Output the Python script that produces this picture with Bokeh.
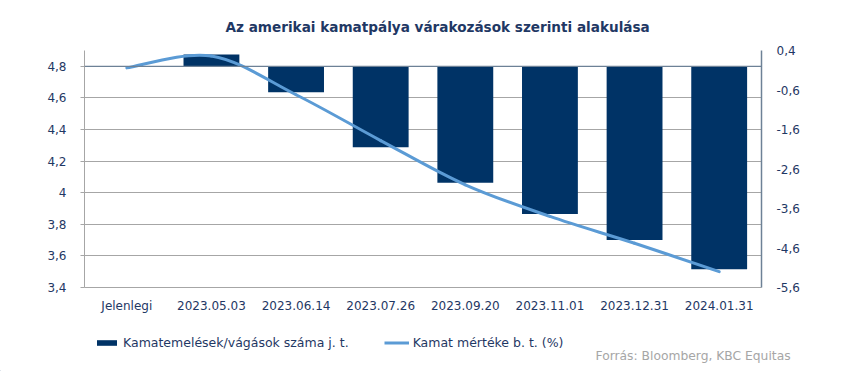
from bokeh.plotting import figure
from bokeh.layouts import column
from bokeh.models import (Range1d, LinearAxis, FixedTicker, CustomJSTickFormatter,
                          Span, Legend, LegendItem, Label)
from bokeh.embed import file_html
from bokeh.resources import INLINE

categories = ["Jelenlegi", "2023.05.03", "2023.06.14", "2023.07.26",
              "2023.09.20", "2023.11.01", "2023.12.31", "2024.01.31"]
moves = [0.0, 0.30, -0.66, -2.05, -2.95, -3.74, -4.40, -5.14]   # right axis (bars)
rate = [4.79, 4.865, 4.62, 4.33, 4.05, 3.85, 3.68, 3.50]        # left axis (line)
left_ticks = [3.4, 3.6, 3.8, 4.0, 4.2, 4.4, 4.6, 4.8]
right_ticks = [0.4, -0.6, -1.6, -2.6, -3.6, -4.6, -5.6]
bar_label = "Kamatemelések/vágások száma j. t."
line_label = "Kamat mértéke b. t. (%)"
title_text = "Az amerikai kamatpálya várakozások szerinti alakulása"
source_text = "Forrás: Bloomberg,  KBC Equitas"

BAR = "#003366"
LINE = "#5B9BD5"
NAVY = "#1F3864"
GRID = "#A6A6A6"
SLATE = "#6D8196"
SRC = "#A6A6A6"
FONT = "DejaVu Sans"

xs = [i + 0.5 for i in range(len(categories))]

p = figure(width=850, height=320, output_backend="svg", toolbar_location=None,
           x_range=Range1d(0, len(categories)), y_range=Range1d(3.4, 4.9),
           min_border_left=84, min_border_right=89, min_border_top=50,
           min_border_bottom=33, background_fill_color="white",
           border_fill_color="white")
p.outline_line_color = None
p.frame_align = False
p.extra_y_ranges = {"r": Range1d(-5.6, 0.4)}

fmt = CustomJSTickFormatter(code="return String(Number(tick.toFixed(1))).replace('.', ',');")

# x axis
p.xaxis.ticker = FixedTicker(ticks=xs)
p.xaxis.major_label_overrides = {x: c for x, c in zip(xs, categories)}
p.xaxis.major_tick_line_color = None
p.xaxis.minor_tick_line_color = None
p.xaxis.axis_line_color = GRID
p.xaxis.major_label_text_font = FONT
p.xaxis.major_label_text_font_size = "12px"
p.xaxis.major_label_text_color = NAVY
p.xaxis.major_label_standoff = 5

# left axis
p.yaxis.ticker = FixedTicker(ticks=left_ticks)
p.yaxis.formatter = fmt
p.yaxis.minor_tick_line_color = None
p.yaxis.major_tick_in = 0
p.yaxis.major_tick_out = 4
p.yaxis.major_tick_line_color = GRID
p.yaxis.axis_line_color = GRID
p.yaxis.major_label_text_font = FONT
p.yaxis.major_label_text_font_size = "12px"
p.yaxis.major_label_text_color = NAVY
p.yaxis.major_label_standoff = 14

# right axis
ra = LinearAxis(y_range_name="r", ticker=FixedTicker(ticks=right_ticks), formatter=fmt)
ra.minor_tick_line_color = None
ra.major_tick_line_color = None
ra.axis_line_color = SLATE
ra.axis_line_width = 1.5
ra.major_label_text_font = FONT
ra.major_label_text_font_size = "12px"
ra.major_label_text_color = NAVY
ra.major_label_standoff = 9
p.add_layout(ra, "right")

p.xgrid.grid_line_color = None
p.ygrid.grid_line_color = GRID
p.ygrid.grid_line_width = 1

# bars
bars = p.vbar(x=xs, top=moves, bottom=0, width=0.66, y_range_name="r",
              fill_color=BAR, line_color=None)

# zero line of bar axis
p.add_layout(Span(location=0, dimension="width", y_range_name="r",
                  line_color=SLATE, line_width=1.2))

# smoothed line (Catmull-Rom as cubic Bezier segments through the data points)
n = len(xs)
x0, y0, x1, y1, cx0, cy0, cx1, cy1 = [], [], [], [], [], [], [], []
for i in range(n - 1):
    pxm, pym = (xs[i - 1], rate[i - 1]) if i > 0 else (xs[i], rate[i])
    px2, py2 = (xs[i + 2], rate[i + 2]) if i + 2 < n else (xs[i + 1], rate[i + 1])
    x0.append(xs[i]); y0.append(rate[i])
    x1.append(xs[i + 1]); y1.append(rate[i + 1])
    cx0.append(xs[i] + (xs[i + 1] - pxm) / 6.0)
    cy0.append(rate[i] + (rate[i + 1] - pym) / 6.0)
    cx1.append(xs[i + 1] - (px2 - xs[i]) / 6.0)
    cy1.append(rate[i + 1] - (py2 - rate[i]) / 6.0)
p.bezier(x0=x0, y0=y0, x1=x1, y1=y1, cx0=cx0, cy0=cy0, cx1=cx1, cy1=cy1,
         line_color=LINE, line_width=3, line_cap="round")

p.title.text = title_text
p.title.align = "left"
p.title.offset = 141
p.title.standoff = 32
p.title.text_font = FONT
p.title.text_font_size = "13.6px"
p.title.text_font_style = "bold"
p.title.text_color = NAVY

# legend / source strip below the chart (pixel-scaled frame covering the strip)
W2, H2 = 850, 51
q = figure(width=W2, height=H2, output_backend="svg", toolbar_location=None,
           x_range=Range1d(0, W2), y_range=Range1d(0, H2),
           x_axis_type=None, y_axis_type=None,
           min_border_left=0, min_border_right=0, min_border_top=0,
           min_border_bottom=0, background_fill_color="white",
           border_fill_color="white")
q.outline_line_color = None
q.frame_align = False
q.grid.visible = False
# legend proxies (kept outside the visible range; only their legend swatches show)
leg_bar = q.vbar(x=[-1000], top=[1], width=1, fill_color=BAR, line_color=None)
leg_line = q.line(x=[-1000, -999], y=[1, 1], line_color=LINE, line_width=3)
legend = Legend(items=[LegendItem(label=bar_label, renderers=[leg_bar]),
                       LegendItem(label=line_label, renderers=[leg_line])],
                location=(94, 21), orientation="horizontal",
                glyph_width=25, glyph_height=7, label_standoff=4, spacing=35,
                padding=0, margin=0, border_line_color=None,
                background_fill_alpha=0, label_text_font=FONT,
                label_text_font_size="12.5px", label_text_color=NAVY,
                label_height=14)
q.add_layout(legend, "center")
q.add_layout(Label(x=595, y=16, text=source_text, text_font=FONT,
                   text_font_size="12.3px", text_color=SRC, text_baseline="middle"))

open("out.html", "w").write(file_html(column(p, q, spacing=0), INLINE))
